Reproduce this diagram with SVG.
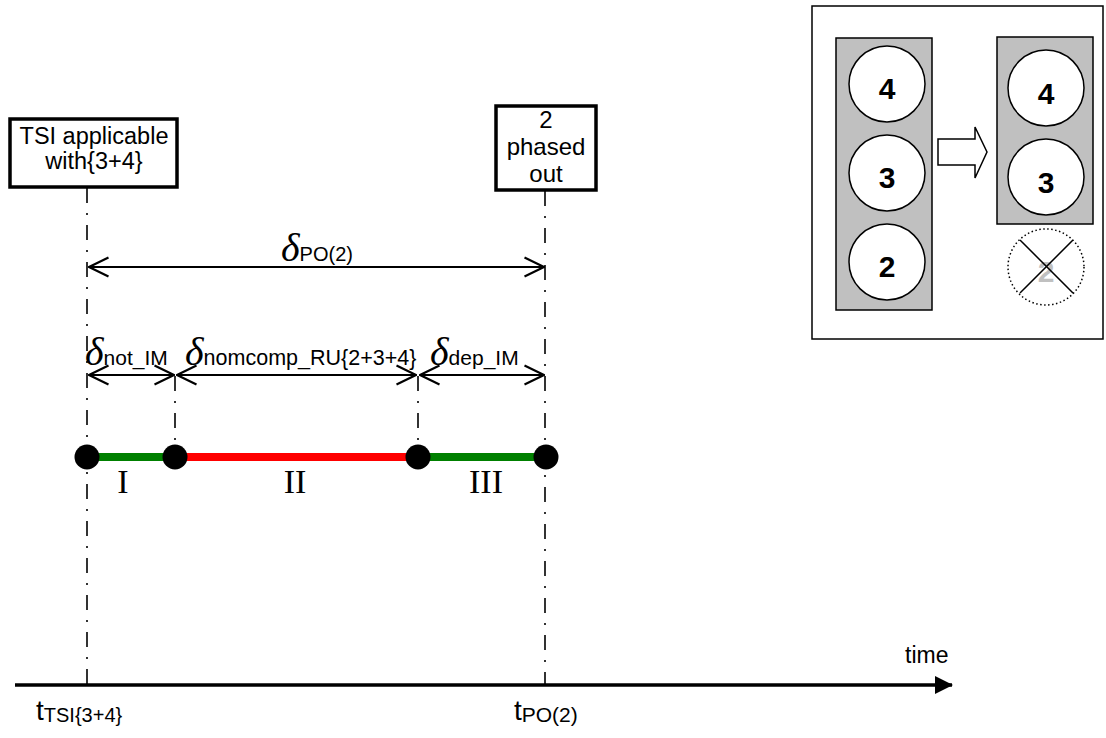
<svg xmlns="http://www.w3.org/2000/svg" width="1106" height="738" viewBox="0 0 1106 738">
<style>
.sans{font-family:"Liberation Sans",Arial,sans-serif;fill:#000}
.serif{font-family:"Liberation Serif","Times New Roman",serif;fill:#000}
.dd{stroke:#000;stroke-width:1.6;stroke-dasharray:15 10 2 10;fill:none}
.arr{stroke:#000;stroke-width:2;fill:none;marker-start:url(#oa);marker-end:url(#oa)}
.box{fill:#fff;stroke:#000;stroke-width:3.5}
.panel{fill:#c0c0c0;stroke:#000;stroke-width:1.5}
.circ{fill:#fff;stroke:#000;stroke-width:1.5}
.num{font-family:"Liberation Sans",Arial,sans-serif;font-weight:bold;font-size:30px;text-anchor:middle}
.dot{fill:#000}
.dl{font-family:"Liberation Serif","Times New Roman",serif;font-style:italic;font-size:40px}
</style>
<defs>
<marker id="oa" viewBox="0 0 22 22" refX="21" refY="11" markerWidth="22" markerHeight="22" markerUnits="userSpaceOnUse" orient="auto-start-reverse">
<path d="M1.5,1.5 L21,11 L1.5,20.5" fill="none" stroke="#000" stroke-width="2.2"/>
</marker>
<marker id="fa" viewBox="0 0 18 18" refX="17" refY="9" markerWidth="18" markerHeight="18" markerUnits="userSpaceOnUse" orient="auto">
<path d="M0,0 L18,9 L0,18 Z" fill="#000"/>
</marker>
</defs>

<g id="connectors">
<line class="dd" x1="87" y1="188" x2="87" y2="685"/>
<line class="dd" x1="545" y1="191" x2="545" y2="685"/>
<line class="dd" x1="175" y1="376" x2="175" y2="457"/>
<line class="dd" x1="418" y1="376" x2="418" y2="457"/>
<line class="arr" x1="89" y1="267" x2="544" y2="267"/>
<line class="arr" x1="89" y1="375" x2="174" y2="375"/>
<line class="arr" x1="177" y1="375" x2="416" y2="375"/>
<line class="arr" x1="420" y1="375" x2="544" y2="375"/>
<line x1="15" y1="685" x2="952" y2="685" stroke="#000" stroke-width="3.5" marker-end="url(#fa)"/>
<line x1="87" y1="457" x2="175" y2="457" stroke="#008000" stroke-width="8"/>
<line x1="175" y1="457" x2="418" y2="457" stroke="#ff0000" stroke-width="8"/>
<line x1="418" y1="457" x2="546" y2="457" stroke="#008000" stroke-width="8"/>
</g>

<g id="node-tsi">
<rect class="box" x="10" y="119" width="167" height="68"/>
<text class="sans" font-size="23.5" text-anchor="middle" x="94" y="144">TSI applicable</text>
<text class="sans" font-size="23.5" text-anchor="middle" x="94" y="169">with{3+4}</text>
</g>

<g id="node-phased">
<rect class="box" x="496" y="106" width="100" height="84"/>
<text class="sans" font-size="24" text-anchor="middle" x="546" y="128">2</text>
<text class="sans" font-size="24" text-anchor="middle" x="546" y="155">phased</text>
<text class="sans" font-size="24" text-anchor="middle" x="546" y="182">out</text>
</g>

<g id="dots">
<circle class="dot" cx="87" cy="457" r="12.5"/>
<circle class="dot" cx="175" cy="457" r="12.5"/>
<circle class="dot" cx="418" cy="457" r="12.5"/>
<circle class="dot" cx="546" cy="457" r="12.5"/>
</g>

<g id="labels">
<text x="281" y="261"><tspan class="dl">δ</tspan><tspan class="sans" font-size="20">PO(2)</tspan></text>
<text x="85" y="365"><tspan class="dl">δ</tspan><tspan class="sans" font-size="21">not_IM</tspan></text>
<text x="185" y="365"><tspan class="dl">δ</tspan><tspan class="sans" font-size="21.5">nomcomp_RU{2+3+4}</tspan></text>
<text x="430" y="365"><tspan class="dl">δ</tspan><tspan class="sans" font-size="21">dep_IM</tspan></text>
<text class="serif" font-size="34" text-anchor="middle" x="123" y="493">I</text>
<text class="serif" font-size="34" text-anchor="middle" x="295" y="493">II</text>
<text class="serif" font-size="34" text-anchor="middle" x="486" y="493">III</text>
<text class="sans" font-size="23" x="905" y="663">time</text>
<text x="36" y="720"><tspan class="sans" font-size="28">t</tspan><tspan class="sans" font-size="20" dy="2">TSI{3+4}</tspan></text>
<text x="514" y="720"><tspan class="sans" font-size="28">t</tspan><tspan class="sans" font-size="21" dy="2">PO(2)</tspan></text>
</g>

<g id="inset">
<rect x="812" y="6" width="291" height="333" fill="#fff" stroke="#000" stroke-width="1.5"/>
<rect class="panel" x="836" y="38" width="96" height="272"/>
<circle class="circ" cx="887" cy="84" r="38"/>
<circle class="circ" cx="887" cy="173" r="38"/>
<circle class="circ" cx="887" cy="262" r="38"/>
<text class="num" x="887" y="99">4</text>
<text class="num" x="887" y="188">3</text>
<text class="num" x="887" y="277">2</text>
<path d="M938,139 L975,139 L975,127 L987,152 L975,178 L975,165 L938,165 Z" fill="#fff" stroke="#000" stroke-width="1.5"/>
<rect class="panel" x="997" y="37" width="96" height="187"/>
<circle class="circ" cx="1046" cy="88" r="38"/>
<circle class="circ" cx="1046" cy="177" r="38"/>
<text class="num" x="1046" y="104">4</text>
<text class="num" x="1046" y="193">3</text>
<text class="num" x="1046" y="282" fill="#c0c0c0">2</text>
<circle cx="1046" cy="267" r="38" fill="none" stroke="#000" stroke-width="1.5" stroke-dasharray="1.5 2.5"/>
<line x1="1020" y1="240" x2="1073" y2="293" stroke="#000" stroke-width="1.5"/>
<line x1="1073" y1="240" x2="1020" y2="293" stroke="#000" stroke-width="1.5"/>
</g>
</svg>
